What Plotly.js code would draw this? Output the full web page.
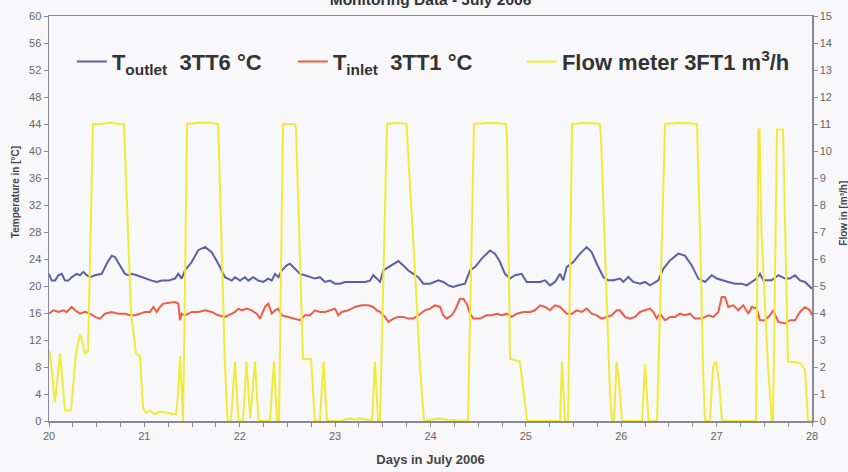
<!DOCTYPE html>
<html>
<head>
<meta charset="utf-8">
<script src="https://cdn.plot.ly/plotly-3.0.1.min.js"></script>
<style>html,body{margin:0;padding:0;background:#f8f8fb;}</style>
</head>
<body>
<div id="chart" style="width:848px;height:472px;"></div>
<script>
// Days in July 2006 (decimal day) and readings
const outletDays = [20.000,20.028,20.063,20.098,20.133,20.168,20.202,20.238,20.290,20.325,20.360,20.395,20.430,20.482,20.553,20.605,20.657,20.692,20.744,20.797,20.831,20.867,20.920,20.972,21.024,21.077,21.129,21.182,21.251,21.321,21.356,21.391,21.426,21.496,21.565,21.636,21.706,21.775,21.845,21.916,21.950,22.003,22.055,22.090,22.142,22.195,22.247,22.299,22.335,22.370,22.404,22.440,22.492,22.527,22.579,22.632,22.684,22.737,22.789,22.841,22.894,22.946,22.999,23.051,23.104,23.174,23.243,23.313,23.366,23.400,23.436,23.471,23.505,23.558,23.610,23.662,23.715,23.767,23.820,23.872,23.925,23.995,24.082,24.134,24.187,24.239,24.291,24.362,24.414,24.467,24.537,24.624,24.676,24.729,24.781,24.834,24.886,24.956,25.009,25.078,25.148,25.201,25.253,25.305,25.358,25.392,25.428,25.497,25.568,25.638,25.690,25.743,25.812,25.864,25.917,25.987,26.022,26.074,26.126,26.197,26.249,26.301,26.354,26.388,26.441,26.511,26.598,26.668,26.739,26.808,26.878,26.948,27.001,27.053,27.122,27.193,27.263,27.315,27.368,27.420,27.455,27.489,27.577,27.647,27.717,27.769,27.822,27.874,27.927,27.979,28.000];
const tOutlet = [21.8,20.8,20.8,21.6,21.8,20.8,20.8,21.3,21.8,21.6,22.1,21.6,21.3,21.6,21.8,23.3,24.5,24.3,23.05,21.8,21.6,21.8,21.6,21.3,21.1,20.8,20.6,20.8,20.8,21.1,21.8,21.1,22.3,23.55,25.3,25.8,25.0,23.3,21.3,20.8,21.3,20.8,21.3,20.8,21.3,20.8,20.6,21.1,20.8,21.8,21.3,22.3,23.05,23.3,22.55,21.8,21.6,21.3,21.1,21.3,20.6,20.8,20.35,20.35,20.6,20.6,20.6,20.6,20.8,21.6,21.1,20.6,22.3,22.8,23.3,23.7,23.05,22.3,21.8,21.3,20.35,20.35,20.84,20.6,20.1,19.86,20.1,20.35,22.3,22.8,24.05,25.27,24.8,23.55,21.8,21.1,21.6,21.8,20.6,20.6,20.6,20.84,20.1,20.6,21.8,20.84,22.8,23.55,24.8,25.76,25.02,23.3,21.33,20.84,20.84,21.1,20.6,21.33,20.6,20.35,20.6,20.1,20.6,20.84,22.55,23.8,24.8,24.5,23.05,21.1,20.6,21.6,21.1,20.84,20.6,20.35,20.35,20.1,20.6,21.1,21.8,20.84,20.84,21.6,21.1,21.1,21.6,20.84,20.6,19.86,19.6];

const inletDays = [20.000,20.045,20.098,20.150,20.186,20.238,20.273,20.325,20.377,20.430,20.482,20.535,20.587,20.657,20.727,20.797,20.849,20.902,20.954,21.007,21.059,21.094,21.129,21.164,21.198,21.251,21.321,21.356,21.374,21.391,21.426,21.496,21.565,21.636,21.706,21.775,21.845,21.916,21.950,21.985,22.020,22.073,22.125,22.178,22.212,22.265,22.299,22.335,22.370,22.404,22.440,22.509,22.579,22.632,22.684,22.737,22.789,22.841,22.894,22.946,22.999,23.033,23.069,23.138,23.208,23.279,23.348,23.400,23.436,23.471,23.523,23.558,23.610,23.662,23.715,23.767,23.820,23.872,23.942,23.995,24.047,24.100,24.134,24.170,24.222,24.257,24.309,24.344,24.380,24.414,24.449,24.519,24.589,24.642,24.694,24.747,24.799,24.851,24.904,24.973,25.043,25.096,25.148,25.201,25.253,25.305,25.358,25.392,25.428,25.480,25.533,25.585,25.638,25.690,25.743,25.795,25.847,25.900,25.952,25.987,26.039,26.092,26.144,26.197,26.249,26.301,26.336,26.372,26.406,26.459,26.511,26.564,26.616,26.668,26.721,26.773,26.843,26.913,26.965,27.018,27.053,27.088,27.122,27.175,27.227,27.280,27.332,27.368,27.420,27.455,27.507,27.560,27.594,27.647,27.717,27.769,27.822,27.874,27.927,27.979,28.000];
const tInlet = [15.9,16.4,16.16,16.4,16.16,16.9,16.4,15.9,16.16,15.9,15.42,15.17,15.9,16.16,15.9,15.9,15.66,15.66,15.9,16.16,16.16,16.9,16.16,16.9,17.39,17.5,17.63,17.39,14.93,15.9,15.66,16.16,16.16,16.4,16.16,15.66,15.42,15.9,16.16,16.65,16.4,16.65,16.4,15.9,15.17,16.9,17.39,15.9,16.4,16.65,15.66,15.42,15.17,14.93,15.66,15.66,16.4,16.16,16.16,16.4,16.65,15.66,16.16,16.4,16.9,17.14,17.14,16.9,16.4,16.16,15.42,14.68,15.17,15.42,15.42,15.17,15.17,15.66,16.4,16.65,17.14,16.9,15.66,15.17,15.66,16.4,18.1,18.1,17.39,15.9,15.17,15.17,15.66,15.66,15.9,15.66,15.9,15.42,15.9,16.16,16.16,16.4,17.14,16.9,16.4,17.14,16.9,16.4,15.9,15.9,16.4,16.16,16.65,15.9,15.66,15.17,15.42,15.66,16.4,16.4,15.42,15.17,15.42,16.16,16.4,16.65,16.16,15.17,15.9,14.93,15.42,15.42,15.9,15.66,15.9,15.17,15.17,15.66,15.42,16.16,18.37,18.37,16.9,17.14,16.4,17.14,15.9,16.9,16.65,14.93,14.93,15.66,16.4,14.68,14.44,14.93,14.93,16.16,16.9,16.4,15.66];

const flowDays = [20.000,20.010,20.063,20.115,20.168,20.231,20.283,20.325,20.346,20.377,20.409,20.430,20.461,20.535,20.640,20.723,20.786,20.818,20.860,20.912,20.954,20.986,21.017,21.059,21.111,21.164,21.269,21.332,21.353,21.374,21.394,21.405,21.426,21.447,21.583,21.688,21.772,21.782,21.814,21.845,21.872,21.908,21.950,21.987,22.034,22.071,22.110,22.160,22.197,22.317,22.359,22.391,22.412,22.453,22.579,22.590,22.632,22.663,22.747,22.789,22.841,22.878,22.915,23.051,23.156,23.208,23.261,23.387,23.418,23.450,23.470,23.544,23.649,23.748,23.838,23.890,23.932,24.026,24.100,24.173,24.393,24.456,24.624,24.792,24.802,24.834,24.938,25.012,25.358,25.379,25.410,25.442,25.484,25.630,25.777,25.788,25.840,25.882,25.903,25.924,25.950,25.976,26.008,26.218,26.249,26.286,26.375,26.459,26.616,26.794,26.826,26.857,26.878,26.931,26.962,26.993,27.025,27.056,27.413,27.439,27.450,27.470,27.539,27.578,27.591,27.633,27.696,27.748,27.874,27.927,27.958,28.000];
const flow = [2.6,2.5,0.7,2.5,0.4,0.4,2.5,3.2,3.0,2.5,2.6,6.0,11.0,11.0,11.05,11.0,11.0,8.0,4.0,2.5,2.4,0.5,0.3,0.4,0.25,0.35,0.3,0.25,1.0,2.4,1.0,0.0,5.0,11.0,11.05,11.05,11.0,10.0,6.0,2.0,0.0,0.0,2.2,0.0,0.0,2.2,0.1,2.2,0.0,0.0,2.2,0.0,0.0,11.0,11.0,10.8,6.0,2.3,2.3,0.0,0.0,2.2,0.0,0.0,0.1,0.05,0.1,0.0,2.2,0.0,0.0,11.0,11.05,11.0,5.5,2.0,0.0,0.05,0.1,0.05,0.0,11.0,11.05,11.0,10.5,2.3,2.2,0.0,0.0,2.2,0.0,0.0,11.0,11.05,11.0,10.5,5.0,1.0,0.0,0.0,2.2,1.5,0.0,0.0,2.1,0.0,0.0,11.0,11.05,11.0,7.0,2.0,0.0,0.0,2.0,2.2,1.5,0.0,0.0,10.8,10.8,7.0,2.0,0.0,0.0,10.8,10.8,2.2,2.15,1.9,0.0,0.0];

const xTicks = [20,21,22,23,24,25,26,27,28];
const seriesNames = [
  '<b>T<sub>outlet</sub>\u00a0\u00a03TT6 °C</b>',
  '<b>T<sub>inlet</sub>\u00a0\u00a03TT1 °C</b>',
  '<b>Flow meter 3FT1 m<sup>3</sup>/h</b>'
];

const sans = '"Liberation Sans", Arial, sans-serif';

const traces = [
  {x: outletDays, y: tOutlet, name: seriesNames[0], type: 'scatter', mode: 'lines',
   line: {color: '#5b5ea8', width: 2}, yaxis: 'y', legendwidth: 176},
  {x: inletDays, y: tInlet, name: seriesNames[1], type: 'scatter', mode: 'lines',
   line: {color: '#ef5d47', width: 2}, yaxis: 'y', legendwidth: 184},
  {x: flowDays, y: flow, name: seriesNames[2], type: 'scatter', mode: 'lines',
   line: {color: '#f2ea38', width: 2}, yaxis: 'y2'}
];

const axisCommon = {
  showgrid: false, zeroline: false, showline: true, linecolor: '#8a8a96', linewidth: 1.5,
  ticks: 'outside', ticklen: 4, tickcolor: '#8a8a96', tickwidth: 1,
  tickfont: {family: sans, size: 11, color: '#666'}
};

const layout = {
  width: 848, height: 472,
  paper_bgcolor: '#f8f8fb', plot_bgcolor: '#f8f8fb',
  margin: {l: 49, r: 36, t: 16, b: 51, pad: 0},
  title: {text: '<b>Monitoring Data - July 2006</b>', font: {family: sans, size: 15.5, color: '#333'},
          x: 0.5, xref: 'paper', xanchor: 'center', y: 1, yref: 'container', yanchor: 'middle'},
  showlegend: true,
  legend: {orientation: 'h', x: 0.03, xanchor: 'left', y: 0.887, yanchor: 'middle',
           font: {family: sans, size: 22, color: '#333'}, bgcolor: 'rgba(0,0,0,0)'},
  xaxis: Object.assign({}, axisCommon, {
    range: [20, 28], tickvals: xTicks, ticktext: xTicks.map(String), mirror: true,
    minor: {dtick: 0.25, tick0: 20, ticks: 'outside', ticklen: 4, tickcolor: '#8a8a96'},
    title: {text: '<b>Days in July 2006</b>', font: {family: sans, size: 13, color: '#444'}, standoff: 14}
  }),
  yaxis: Object.assign({}, axisCommon, {range: [0, 60], dtick: 4, tick0: 0}),
  yaxis2: Object.assign({}, axisCommon, {range: [0, 15], dtick: 1, tick0: 0, overlaying: 'y', side: 'right'}),
  annotations: [
    {text: '<b>Temperature in [°C]</b>', xref: 'paper', yref: 'paper', x: -0.0446, y: 0.565,
     xanchor: 'center', yanchor: 'middle', textangle: -90, showarrow: false,
     font: {family: sans, size: 10, color: '#444'}},
    {text: '<b>Flow in [m³/h]</b>', xref: 'paper', yref: 'paper', x: 1.042, y: 0.512,
     xanchor: 'center', yanchor: 'middle', textangle: -90, showarrow: false,
     font: {family: sans, size: 10, color: '#444'}}
  ]
};

Plotly.newPlot('chart', traces, layout, {displayModeBar: false, staticPlot: true});
</script>
</body>
</html>
